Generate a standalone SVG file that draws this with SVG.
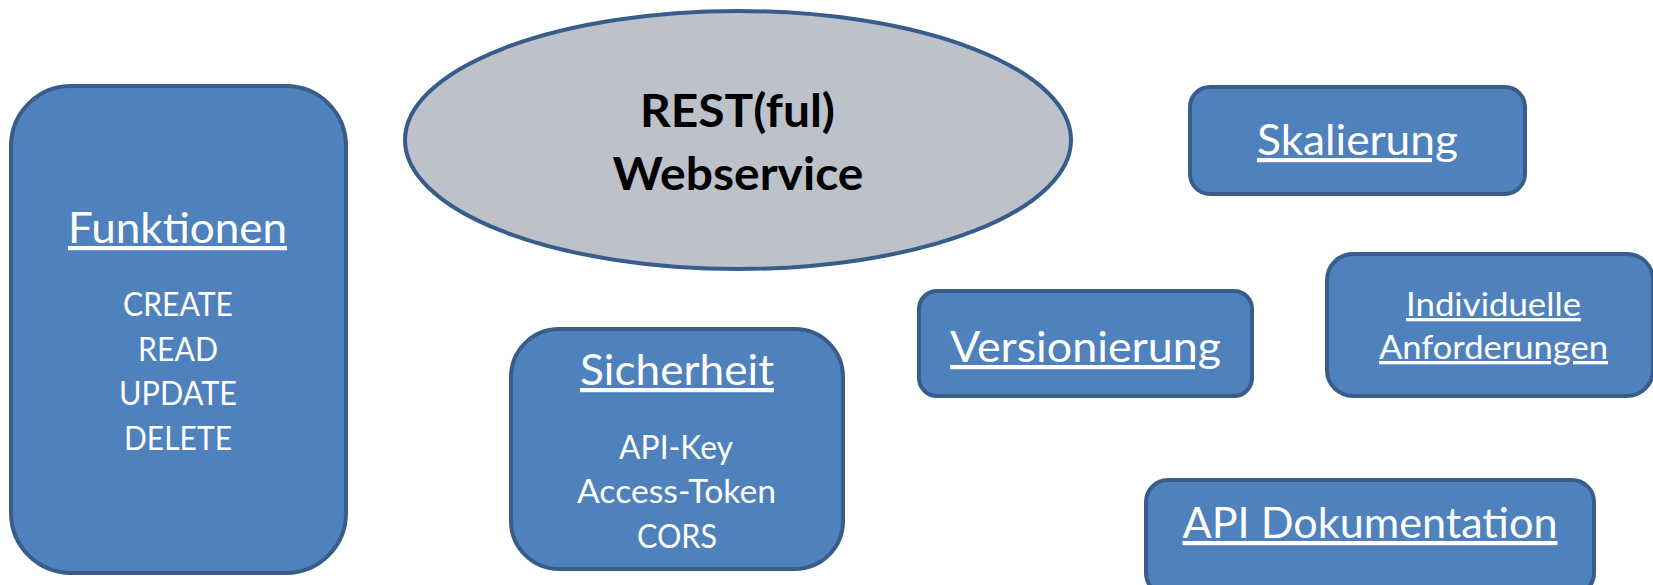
<svg xmlns="http://www.w3.org/2000/svg" width="1653" height="585" viewBox="0 0 1653 585">
<style>
.box{fill:#4F81BD;stroke:#385D8A;stroke-width:4}
.ell{fill:#BCC1CA;stroke:#385D8A;stroke-width:4}
.t{font-family:Lato,"Open Sans","Liberation Sans",sans-serif;fill:#FFFFFF;text-anchor:middle}
.title{font-size:42px;text-decoration:underline}
.sub{font-size:32px}
.small{font-size:33px;text-decoration:underline}
.main{font-family:Lato,"Open Sans","Liberation Sans",sans-serif;font-weight:bold;font-size:46px;fill:#000000;text-anchor:middle}
</style>
<rect width="1653" height="585" fill="#FFFFFF"/>
<g id="connectors"/>
<g id="node-webservice">
<ellipse class="ell" cx="738" cy="140" rx="333" ry="129"/>
<text class="main" x="737.5" y="127" textLength="195" lengthAdjust="spacingAndGlyphs">REST(ful)</text>
<text class="main" x="738" y="190" textLength="251" lengthAdjust="spacingAndGlyphs">Webservice</text>
</g>
<g id="node-funktionen">
<rect class="box" x="11" y="86" width="335" height="487" rx="60" ry="60"/>
<text class="t title" x="177.5" y="243" textLength="219" lengthAdjust="spacingAndGlyphs">Funktionen</text>
<text class="t sub" x="178" y="316" textLength="110" lengthAdjust="spacingAndGlyphs">CREATE</text>
<text class="t sub" x="178" y="361" textLength="80" lengthAdjust="spacingAndGlyphs">READ</text>
<text class="t sub" x="178" y="405" textLength="118" lengthAdjust="spacingAndGlyphs">UPDATE</text>
<text class="t sub" x="178" y="450" textLength="108" lengthAdjust="spacingAndGlyphs">DELETE</text>
</g>
<g id="node-sicherheit">
<rect class="box" x="511" y="329" width="332" height="240" rx="48" ry="48"/>
<text class="t title" x="677" y="385" textLength="194" lengthAdjust="spacingAndGlyphs">Sicherheit</text>
<text class="t sub" x="676" y="459" textLength="114" lengthAdjust="spacingAndGlyphs">API-Key</text>
<text class="t sub" x="676.5" y="503" textLength="199" lengthAdjust="spacingAndGlyphs">Access-Token</text>
<text class="t sub" x="677" y="548" textLength="80" lengthAdjust="spacingAndGlyphs">CORS</text>
</g>
<g id="node-skalierung">
<rect class="box" x="1190" y="87" width="335" height="107" rx="20" ry="20"/>
<text class="t title" x="1357.5" y="155" textLength="201" lengthAdjust="spacingAndGlyphs">Skalierung</text>
</g>
<g id="node-versionierung">
<rect class="box" x="919" y="291" width="333" height="105" rx="18" ry="18"/>
<text class="t title" x="1085.5" y="362" textLength="271" lengthAdjust="spacingAndGlyphs">Versionierung</text>
</g>
<g id="node-individuelle">
<rect class="box" x="1327" y="254" width="326" height="142" rx="26" ry="26"/>
<text class="t small" x="1493.5" y="316" textLength="175" lengthAdjust="spacingAndGlyphs">Individuelle</text>
<text class="t small" x="1493.5" y="359" textLength="229" lengthAdjust="spacingAndGlyphs">Anforderungen</text>
</g>
<g id="node-apidoku">
<rect class="box" x="1146" y="480" width="448" height="115" rx="22" ry="22"/>
<text class="t title" x="1370" y="538" textLength="375" lengthAdjust="spacingAndGlyphs">API Dokumentation</text>
</g>
</svg>
